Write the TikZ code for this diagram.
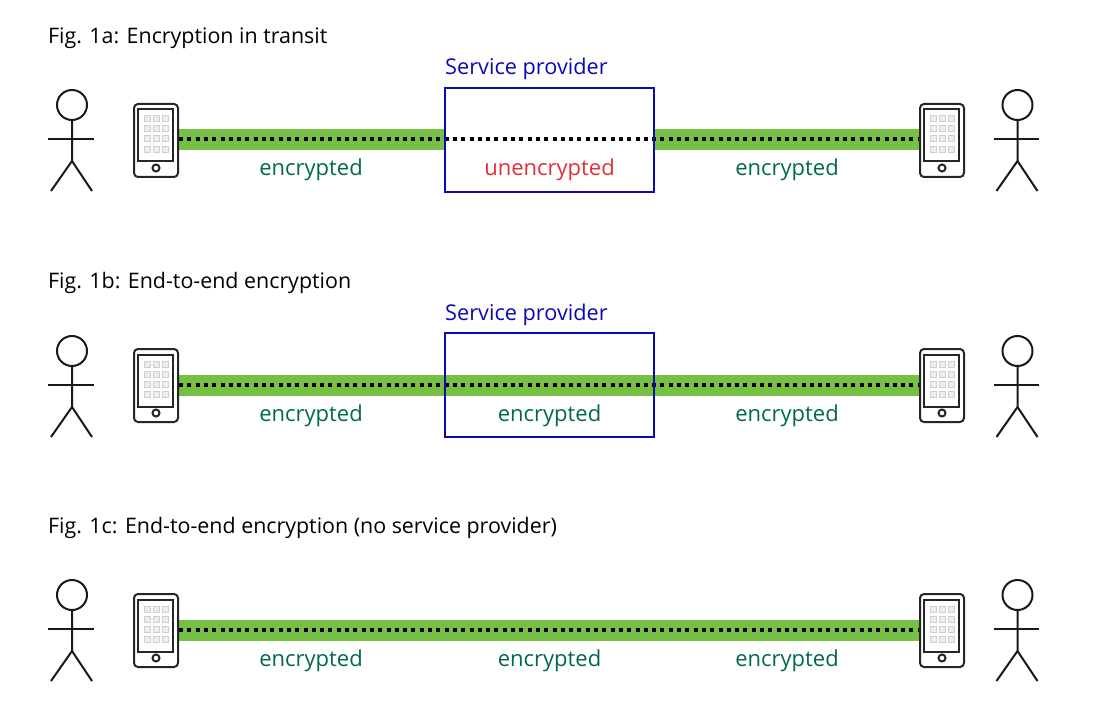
\documentclass[tikz,border=0pt]{standalone}
\usepackage{fontspec}
\setmainfont{Open Sans}
\usetikzlibrary{positioning,backgrounds}

\definecolor{barGreen}{HTML}{76C043}
\definecolor{encGreen}{HTML}{006B45}
\definecolor{uncRed}{HTML}{E0303A}
\definecolor{provBlue}{HTML}{0A0AB4}
\definecolor{keyGrey}{HTML}{CFCFCF}
\definecolor{keyFill}{HTML}{EDEDED}

\tikzset{
	figtitle/.style={anchor=base west, inner sep=0pt, font=\fontsize{21.4}{25}\selectfont},
	provtitle/.style={anchor=base west, inner sep=0pt, text=provBlue, font=\fontsize{21.7}{25}\selectfont},
	enclabel/.style={anchor=base, inner sep=0pt, text=encGreen, font=\fontsize{22}{25}\selectfont},
	unclabel/.style={anchor=base, inner sep=0pt, text=uncRed, font=\fontsize{22}{25}\selectfont},
	provbox/.style={draw=provBlue, line width=2pt, minimum width=209pt, minimum height=104pt, inner sep=0pt},
	phonebox/.style={draw=black!85, line width=2pt, rounded corners=4pt, minimum width=44pt, minimum height=73pt, inner sep=0pt},
	greenbar/.style={draw=barGreen, line width=21pt},
	dotline/.style={draw=black, line width=4pt, dash pattern=on 4pt off 4.3pt},
	person/.pic={
		\draw[line width=2pt, black!90] (0,0) circle (15);
		\draw[line width=2pt, black!90] (0,15) -- (0,56) -- (-21,86);
		\draw[line width=2pt, black!90] (0,56) -- (20,86);
		\draw[line width=2pt, black!90] (-24,34) -- (21.5,34);
	},
	phonefront/.pic={
		\draw[line width=2pt, black!85] (-18,-31) rectangle (17,21);
		\draw[line width=2pt, black!85] (0,27.5) circle (3.5);
		\foreach \kx in {-9,0,9}
			\foreach \ky in {-21.5,-11.5,-1.5,9}
				\filldraw[draw=keyGrey, fill=keyFill, line width=1pt] (\kx-3,\ky-3) rectangle (\kx+3,\ky+3);
	}
}

\begin{document}
\begin{tikzpicture}[x=1pt,y=-1pt]
	\useasboundingbox (0,0) rectangle (1100,714);

	% Fig. 1a
	\node[figtitle] (titleA) at (48,43.5) {Fig. 1a: Encryption in transit};
	\node[provtitle] (provtitleA) at (445,75) {Service provider};
	\node[provbox] (provA) at (549.5,140) {};
	\node[phonebox] (phoneA1) at (156,140.5) {};
	\node[phonebox] (phoneA2) at (942,140.5) {};
	\pic at (156,140.5) {phonefront};
	\pic at (942,140.5) {phonefront};
	\pic at (72,105) {person};
	\pic at (1017.5,105) {person};
	\begin{scope}[on background layer]
		\draw[greenbar] (phoneA1.east |- 0,139.5) -- (provA.west |- 0,139.5);
		\draw[greenbar] (provA.east |- 0,139.5) -- (phoneA2.west |- 0,139.5);
		\draw[dotline] (phoneA1.east |- 0,139.5) -- (phoneA2.west |- 0,139.5);
	\end{scope}
	\node[enclabel] (encA1) at (311,176) {encrypted};
	\node[unclabel] (uncA) at (549.5,176) {unencrypted};
	\node[enclabel] (encA2) at (787,176) {encrypted};

	% Fig. 1b
	\node[figtitle] (titleB) at (48,288.5) {Fig. 1b: End-to-end encryption};
	\node[provtitle] (provtitleB) at (445,320) {Service provider};
	\node[provbox] (provB) at (549.5,385) {};
	\node[phonebox] (phoneB1) at (156,385.5) {};
	\node[phonebox] (phoneB2) at (942,385.5) {};
	\pic at (156,385.5) {phonefront};
	\pic at (942,385.5) {phonefront};
	\pic at (72,351) {person};
	\pic at (1017.5,351) {person};
	\begin{scope}[on background layer]
		\draw[greenbar] (phoneB1.east |- 0,385) -- (phoneB2.west |- 0,385);
		\draw[dotline] (phoneB1.east |- 0,385) -- (phoneB2.west |- 0,385);
	\end{scope}
	\node[enclabel] (encB1) at (311,421) {encrypted};
	\node[enclabel] (encB2) at (549.5,421) {encrypted};
	\node[enclabel] (encB3) at (787,421) {encrypted};

	% Fig. 1c
	\node[figtitle] (titleC) at (48,533.5) {Fig. 1c: End-to-end encryption (no service provider)};
	\node[phonebox] (phoneC1) at (156,630.5) {};
	\node[phonebox] (phoneC2) at (942,630.5) {};
	\pic at (156,630.5) {phonefront};
	\pic at (942,630.5) {phonefront};
	\pic at (72,595) {person};
	\pic at (1017.5,595) {person};
	\begin{scope}[on background layer]
		\draw[greenbar] (phoneC1.east |- 0,630) -- (phoneC2.west |- 0,630);
		\draw[dotline] (phoneC1.east |- 0,630) -- (phoneC2.west |- 0,630);
	\end{scope}
	\node[enclabel] (encC1) at (311,666) {encrypted};
	\node[enclabel] (encC2) at (549.5,666) {encrypted};
	\node[enclabel] (encC3) at (787,666) {encrypted};
\end{tikzpicture}
\end{document}
